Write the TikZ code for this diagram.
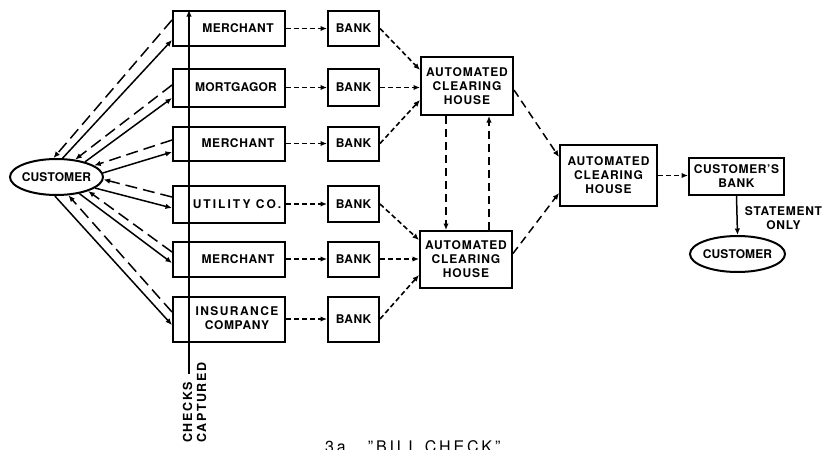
\documentclass[tikz,border=0pt]{standalone}
\usepackage{fontspec}
\setmainfont{TeX Gyre Heros}
\usetikzlibrary{arrows.meta,shapes.geometric}
\newcommand\spc[2]{{\addfontfeatures{LetterSpace=#1}#2}}

\begin{document}
\begin{tikzpicture}[x=1pt,y=1pt,
  box/.style={draw,line width=2pt,inner sep=0pt},
  oval/.style={draw,ellipse,line width=2pt,inner sep=0pt},
  txt/.style={font=\fontsize{12}{14}\selectfont\bfseries,align=center,inner sep=0pt},
  tip/.style={-{Latex[length=6.5pt,width=5.5pt]}},
  dsh/.style={line width=1.6pt,dash pattern=on 5pt off 3pt,tip},
  ldsh/.style={line width=1.5pt,dash pattern=on 12pt off 6pt,tip},
  vdsh/.style={line width=1.5pt,dash pattern=on 8pt off 5pt,tip},
  sld/.style={line width=1.5pt,tip},
  lbox/.style={box,minimum width=112pt},
  bbox/.style={box,minimum width=51pt},
  abox/.style={box,minimum width=92pt,minimum height=58pt},
]
\useasboundingbox (0,0) rectangle (825,-450);

% payees
\node[lbox,minimum height=35pt] (m1) at (229,-28.5) {};
\node[lbox,minimum height=38pt] (m2) at (229,-87.5) {};
\node[lbox,minimum height=34pt] (m3) at (229,-143.5) {};
\node[lbox,minimum height=37pt] (m4) at (229,-204) {};
\node[lbox,minimum height=35pt] (m5) at (229,-259) {};
\node[lbox,minimum height=45pt] (m6) at (229,-319) {};
\node[txt] (m1t) at (238,-28.5) {\spc{3}{MERCHANT}};
\node[txt] (m2t) at (236,-87.5) {\spc{2}{MORTGAGOR}};
\node[txt] (m3t) at (238,-143.5) {\spc{5}{MERCHANT}};
\node[txt] (m4t) at (237,-204) {\spc{17}{UTILITY CO.}};
\node[txt] (m5t) at (238,-259) {\spc{5}{MERCHANT}};
\node[txt] (m6t) at (237,-318) {\spc{12}{INSURANCE}\\\spc{5}{COMPANY}};

% banks
\node[bbox,minimum height=35pt] (b1) at (353.5,-28.5) {};
\node[bbox,minimum height=37pt] (b2) at (353.5,-87.5) {};
\node[bbox,minimum height=34pt] (b3) at (353.5,-143.5) {};
\node[bbox,minimum height=36pt] (b4) at (353.5,-204) {};
\node[bbox,minimum height=35pt] (b5) at (353.5,-259) {};
\node[bbox,minimum height=45pt] (b6) at (353.5,-319) {};
\foreach \i in {1,...,6}{\node[txt] (b\i t) at (b\i) {\spc{3}{BANK}};}

% clearing houses
\node[abox] (a1) at (467,-86) {};
\node[abox,minimum height=57pt] (a2) at (466,-259.5) {};
\node[abox,minimum width=97pt,minimum height=61pt] (a3) at (608.5,-175.5) {};
\foreach \i in {1,2,3}{\node[txt] (a\i t) at (a\i) {\spc{7}{AUTOMATED}\\\spc{7}{CLEARING}\\\spc{7}{HOUSE}};}

% customer side
\node[oval,minimum width=93pt,minimum height=36pt] (cust) at (56.5,-177) {};
\node[txt] (custt) at (cust) {\spc{1}{CUSTOMER}};
\node[box,minimum width=95pt,minimum height=37pt] (cb) at (736.5,-176.5) {};
\node[txt] (cbt) at (cb) {\spc{5}{CUSTOMER'S}\\\spc{5}{BANK}};
\node[oval,minimum width=95pt,minimum height=36pt] (cust2) at (737.5,-254) {};
\node[txt] (cust2t) at (cust2) {\spc{1}{CUSTOMER}};
\node[txt] (stmt) at (783.5,-218) {\spc{6}{STATEMENT}\\\spc{6}{ONLY}};

% checks captured line
\coordinate (cc) at (189,-374);
\draw[sld] (cc) -- (cc |- m1.north);
\node[txt,font=\fontsize{12.5}{14}\selectfont\bfseries,rotate=90,anchor=west,align=left] (cct) at (194.5,-443) {\spc{13}{CHECKS}\\\spc{13}{CAPTURED}};

% customer <-> payees
\draw[ldsh] ([yshift=8.5pt]m1.west) -- (cust.99);
\draw[sld] (cust.72) -- ([yshift=-11.5pt]m1.west);
\draw[ldsh] ([yshift=2.5pt]m2.west) -- (cust.43);
\draw[sld] (cust.28) -- ([yshift=-10.5pt]m2.west);
\draw[ldsh] ([yshift=3.5pt]m3.west) -- (cust.17);
\draw[sld] (cust.5) -- ([yshift=-8.5pt]m3.west);
\draw[ldsh] ([yshift=7pt]m4.west) -- (cust.-3);
\draw[sld] (cust.-16) -- ([yshift=-4pt]m4.west);
\draw[ldsh] ([yshift=7pt]m5.west) -- (cust.-24);
\draw[sld] (cust.-36) -- ([yshift=-4pt]m5.west);
\draw[ldsh] ([yshift=7pt]m6.west) -- (cust.-57);
\draw[sld] (cust.-95) -- ([yshift=-6pt]m6.west);

% payees -> banks
\foreach \i in {1,...,6}{\draw[dsh] (m\i.east) -- (b\i.west);}

% banks -> clearing houses
\draw[dsh] (b1.east) -- ([yshift=16pt]a1.west);
\draw[dsh] (b2.east) -- (b2.east -| a1.west);
\draw[dsh] (b3.east) -- ([yshift=-14pt]a1.west);
\draw[dsh] (b4.east) -- ([yshift=19.5pt]a2.west);
\draw[dsh] (b5.east) -- (b5.east -| a2.west);
\draw[dsh] (b6.east) -- ([yshift=-15.5pt]a2.west);

% between clearing houses
\draw[vdsh] ([xshift=-21pt]a1.south) -- ([xshift=-20pt]a2.north);
\draw[vdsh] ([xshift=23pt]a2.north) -- ([xshift=22pt]a1.south);
\draw[vdsh] ([yshift=-4pt]a1.east) -- ([yshift=18.5pt]a3.west);
\draw[vdsh] ([yshift=6pt]a2.east) -- ([yshift=-17.5pt]a3.west);
\draw[dsh] (a3.east) -- (a3.east -| cb.west);
\draw[sld] (cb.south) -- (cust2.north);

% caption, running off the lower edge of the page
\node[anchor=base west,inner sep=0pt,font=\fontsize{16}{16}\selectfont] (cap) at (325,-452) {\spc{18}{3a.\ \ "BILL CHECK"}};
\end{tikzpicture}
\end{document}
